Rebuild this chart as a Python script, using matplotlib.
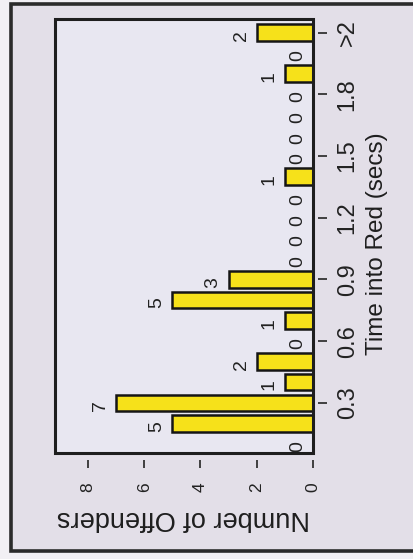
import matplotlib
matplotlib.use('Agg')
import matplotlib.pyplot as plt
from matplotlib.patches import Rectangle

plt.rcParams['font.family'] = ['Liberation Sans', 'DejaVu Sans']

# ---- data ----
bins = ['0.1', '0.2', '0.3', '0.4', '0.5', '0.6', '0.7', '0.8', '0.9', '1.0',
        '1.1', '1.2', '1.3', '1.4', '1.5', '1.6', '1.7', '1.8', '1.9', '2.0', '>2']
offenders = [0, 5, 7, 1, 2, 0, 1, 5, 3, 0, 0, 0, 0, 1, 0, 0, 0, 0, 1, 0, 2]
tick_labels = ['0.3', '0.6', '0.9', '1.2', '1.5', '1.8', '>2']
value_ticks = [0, 2, 4, 6, 8]
x_title = 'Time into Red (secs)'
y_title = 'Number of Offenders'

W, H = 414, 559
fig = plt.figure(figsize=(W / 100, H / 100), dpi=100)
fig.patch.set_facecolor('#f2f0f4')

# outer scanned frame
fig.add_artist(Rectangle((11 / W, 1 - 551 / H), (W + 30 - 11) / W, (551 - 4) / H,
                         transform=fig.transFigure, facecolor='#e3dfe8',
                         edgecolor='#2b2b2b', lw=2.6, clip_on=False, zorder=0))

ax = fig.add_axes([55 / W, 1 - 453 / H, (313 - 55) / W, (453 - 19) / H])
ax.set_facecolor('#e8e7f1')

pos = list(range(len(bins)))
ax.barh(pos, offenders, height=0.8, color='#f6e11a', edgecolor='#151515',
        linewidth=1.8, zorder=3)

ax.set_xlim(9.17, 0)
ax.set_ylim(-0.44, 20.66)

# category axis on the right (rotated chart)
ax.yaxis.tick_right()
ax.set_yticks([bins.index(t) for t in tick_labels])
ax.set_yticklabels(tick_labels)
ax.set_xticks(value_ticks)
ax.set_xticklabels([str(v) for v in value_ticks])

for s in ax.spines.values():
    s.set_visible(False)
ax.spines['bottom'].set_position(('outward', 5))
ax.spines['right'].set_position(('outward', 3.6))
ax.tick_params(axis='x', length=5.8, width=1.3, color='#333333', pad=10,
               labelcolor='#222222', labelsize=12.5, labelrotation=90)
ax.tick_params(axis='y', length=6.5, width=1.3, color='#333333', pad=7,
               labelcolor='#222222', labelsize=17, labelrotation=90)
for lab in ax.get_yticklabels():
    lab.set_verticalalignment('center')
    lab.set_horizontalalignment('left')

ax.add_patch(Rectangle((0, 0), 1, 1, transform=ax.transAxes, fill=False,
                       lw=2.2, edgecolor='#1e1e1e', clip_on=False, zorder=6))

for i, v in enumerate(offenders):
    ax.annotate(str(v), xy=(v, i), xytext=(-5, -2), textcoords='offset points',
                rotation=90, ha='right', va='center', fontsize=14, color='#222222',
                zorder=7)

fig.text(377 / W, 1 - 244 / H, x_title, rotation=90, ha='center', va='center',
         fontsize=17.5, color='#1e1e1e')
fig.text(183 / W, 1 - 518 / H, y_title, rotation=180, ha='center', va='center',
         fontsize=19.5, color='#1e1e1e')

fig.savefig('out.png', dpi=100, facecolor=fig.get_facecolor())
